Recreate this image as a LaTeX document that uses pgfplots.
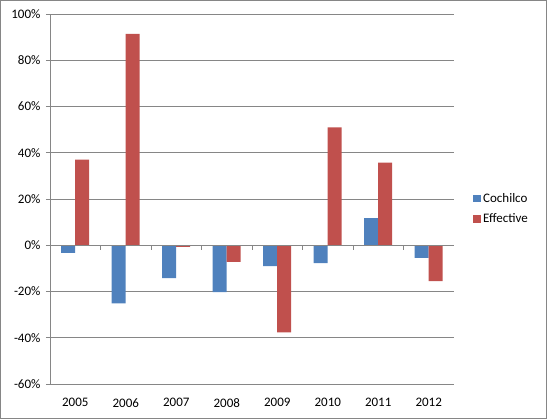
\documentclass[border=0pt]{standalone}
\usepackage{pgfplots}
\pgfplotsset{compat=1.18}
\usepackage{pgfplotstable}
\usepackage{fontspec}
\setmainfont{Carlito}
\definecolor{cblue}{HTML}{4F81BD}
\definecolor{cred}{HTML}{C0504D}
\definecolor{cgrid}{HTML}{868686}
\pgfplotstableread{
x coch eff
0 -3.3 37.0
1 -25.1 91.4
2 -14.2 -0.7
3 -20.3 -7.2
4 -9.0 -37.7
5 -7.7 51.0
6 11.7 35.7
7 -5.5 -15.5
}\datatab
\begin{document}
\begin{tikzpicture}
\useasboundingbox (0,0) rectangle (547pt,419pt);
\draw[cgrid, line width=0.9pt] (0.45pt,0.45pt) rectangle (546.55pt,418.55pt);
\begin{axis}[
  at={(50pt,35pt)}, anchor=south west,
  scale only axis, width=404pt, height=370pt,
  xmin=-0.5, xmax=7.5, ymin=-60, ymax=100,
  ytick={-60,-40,...,100},
  yticklabel={\pgfmathprintnumber{\tick}\%},
  /pgf/number format/assume math mode=true,
  xtick={0,...,7},
  xticklabels={2005,2006,2007,2008,2009,2010,2011,2012},
  axis x line=bottom, axis y line=left,
  x axis line style={draw=none},
  y axis line style={-, cgrid, line width=0.8pt},
  xtick style={draw=none},
  ytick style={cgrid, line width=0.8pt},
  tick align=outside, major tick length=4pt,
  ymajorgrids, grid style={cgrid, line width=0.8pt},
  tick label style={font=\fontsize{13}{15}\selectfont, text=black},
  xticklabel style={yshift=-7pt},
  yticklabel style={xshift=-2pt},
  ybar, bar width=14pt,
  legend style={at={(1.047,0.473)}, anchor=west, draw=none, fill=none,
    font=\fontsize{13}{15}\selectfont, row sep=6pt, inner sep=0pt,
    cells={anchor=west}},
  legend image code/.code={\fill[#1] (0pt,-3.5pt) rectangle (8pt,4pt);},
]
\addplot[fill=cblue, draw=none, bar shift=-7pt] table[x=x, y=coch] {\datatab};
\addplot[fill=cred, draw=none, bar shift=7pt] table[x=x, y=eff] {\datatab};
\legend{Cochilco, Effective}
\draw[cgrid, line width=0.8pt] (axis cs:-0.5,0) -- (axis cs:7.5,0);
\pgfplotsinvokeforeach{-0.5,0.5,1.5,2.5,3.5,4.5,5.5,6.5,7.5}{
  \draw[cgrid, line width=0.8pt] (axis cs:#1,0) -- ([yshift=-5pt]axis cs:#1,0);
}
\end{axis}
\end{tikzpicture}
\end{document}
